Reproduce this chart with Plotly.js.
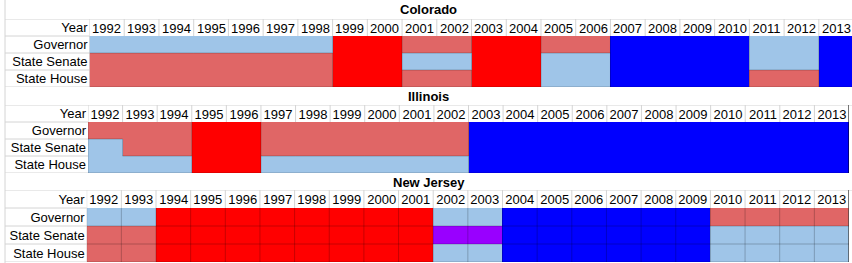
<!DOCTYPE html>
<html><head><meta charset="utf-8">
<script src="https://cdn.plot.ly/plotly-3.0.1.min.js"></script>
<style>html,body{margin:0;padding:0;background:#fff;}#chart{width:852px;height:263px;}</style>
</head><body><div id="chart"></div>
<script>
// ---- data ----
const years = ['1992','1993','1994','1995','1996','1997','1998','1999','2000','2001','2002','2003','2004','2005','2006','2007','2008','2009','2010','2011','2012','2013'];
const rowLabels = ['State House','State Senate','Governor','Year'];
const states = ['Colorado','Illinois','New Jersey'];
// D = Democratic, R = Republican, RT = Republican trifecta, DT = Democratic trifecta, T = tied
const coGov   = ['D','D','D','D','D','D','D','RT','RT','R','R','RT','RT','R','R','DT','DT','DT','DT','D','D','DT'];
const coSen   = ['R','R','R','R','R','R','R','RT','RT','D','D','RT','RT','D','D','DT','DT','DT','DT','D','D','DT'];
const coHouse = ['R','R','R','R','R','R','R','RT','RT','R','R','RT','RT','D','D','DT','DT','DT','DT','R','R','DT'];
const ilGov   = ['R','R','R','RT','RT','R','R','R','R','R','R','DT','DT','DT','DT','DT','DT','DT','DT','DT','DT','DT'];
const ilSen   = ['D','R','R','RT','RT','R','R','R','R','R','R','DT','DT','DT','DT','DT','DT','DT','DT','DT','DT','DT'];
const ilHouse = ['D','D','D','RT','RT','D','D','D','D','D','D','DT','DT','DT','DT','DT','DT','DT','DT','DT','DT','DT'];
const njGov   = ['D','D','RT','RT','RT','RT','RT','RT','RT','RT','D','D','DT','DT','DT','DT','DT','DT','R','R','R','R'];
const njSen   = ['R','R','RT','RT','RT','RT','RT','RT','RT','RT','T','T','DT','DT','DT','DT','DT','DT','D','D','D','D'];
const njHouse = ['R','R','RT','RT','RT','RT','RT','RT','RT','RT','D','D','DT','DT','DT','DT','DT','DT','D','D','D','D'];

// ---- styling ----
const codeIndex = {D:0, R:1, RT:2, DT:3, T:4, H:5};
const colors = ['#9fc5e8','#e06666','#ff0000','#0000ff','#9900ff','#ffffff'];
const colorscale = colors.map((c,i)=>[i/5,c]);
const W = 852, H = 263;
const FONT = 'Liberation Sans, Arial, sans-serif';
const grid = '#d4d4d4';
const border = 'rgba(0,0,0,0.22)';

const panels = [
  {rows:[coHouse,coSen,coGov], top:19, bottom:87, x0:89.5, x1:852, xend:21.455, titleY:10, merged:true, edge:false},
  {rows:[ilHouse,ilSen,ilGov], top:105, bottom:173, x0:88, x1:849, xend:21.5, titleY:97, merged:true, edge:true},
  {rows:[njHouse,njSen,njGov], top:190, bottom:262, x0:86.7, x1:849, xend:21.5, titleY:182, merged:false, edge:true}
];

const traces = [], shapes = [], annotations = [];
const layout = {width:W, height:H, margin:{l:0,r:0,t:0,b:0}, paper_bgcolor:'#fff', plot_bgcolor:'#fff',
  font:{family:FONT, size:13, color:'#000'}, showlegend:false};

panels.forEach((p, k) => {
  const ax = k === 0 ? '' : String(k+1);
  const xa = 'x'+ax, ya = 'y'+ax;
  const z = p.rows.map(r => r.map(v => codeIndex[v]));
  z.push(years.map(()=>codeIndex.H));
  const text = p.rows.map(r => r.map(()=>''));
  text.push(years.slice());
  traces.push({type:'heatmap', x:years.map((_,i)=>i), y:[0,1,2,3], z:z, text:text, texttemplate:'%{text}',
    textfont:{family:FONT, size:13, color:'#000'}, colorscale:colorscale, zmin:0, zmax:5, showscale:false,
    hoverinfo:'skip', xaxis:xa, yaxis:ya});
  layout['xaxis'+ax] = {domain:[p.x0/W, p.x1/W], range:[-0.5, p.xend], showgrid:false, zeroline:false,
    showticklabels:false, ticks:'', anchor:ya, fixedrange:true};
  layout['yaxis'+ax] = {domain:[1-p.bottom/H, 1-p.top/H], range:[-0.5,3.5], showgrid:false, zeroline:false,
    tickvals:[0,1,2,3], ticktext:rowLabels, ticks:'', ticklabelstandoff:1, tickfont:{family:FONT,size:13,color:'#000'},
    anchor:xa, fixedrange:true};
  // title
  annotations.push({text:'<b>'+states[k]+'</b>', xref:'paper', yref:'paper', x:428.5/W, y:1-p.titleY/H,
    xanchor:'center', yanchor:'middle', showarrow:false, font:{family:FONT,size:13,color:'#000'}});
  // header grid
  for (let i=0;i<=years.length;i++) {
    shapes.push({type:'line', xref:xa, yref:ya, x0:i-0.5, x1:i-0.5, y0:2.5, y1:3.5, line:{color:grid,width:1}, layer:'above'});
  }
  shapes.push({type:'line', xref:'paper', yref:ya, x0:5/W, x1:1, y0:3.5, y1:3.5, line:{color:grid,width:1}, layer:'above'});
  shapes.push({type:'line', xref:'paper', yref:ya, x0:5/W, x1:p.x0/W, y0:-0.5, y1:-0.5, line:{color:grid,width:1}, layer:'above'});
  [0.5,1.5,2.5].forEach(yv => shapes.push({type:'line', xref:'paper', yref:ya, x0:5/W, x1:p.x0/W, y0:yv, y1:yv, line:{color:grid,width:1}, layer:'above'}));
  // data cell borders
  for (let r=0;r<3;r++) {
    for (let j=0;j<years.length;j++) {
      if (j < years.length-1 && (!p.merged || p.rows[r][j] !== p.rows[r][j+1]))
        shapes.push({type:'line', xref:xa, yref:ya, x0:j+0.5, x1:j+0.5, y0:r-0.5, y1:r+0.5, line:{color:border,width:1}, layer:'above'});
      if (r < 2 && (!p.merged || p.rows[r][j] !== p.rows[r+1][j]))
        shapes.push({type:'line', xref:xa, yref:ya, x0:j-0.5, x1:j+0.5, y0:r+0.5, y1:r+0.5, line:{color:border,width:1}, layer:'above'});
    }
  }
  shapes.push({type:'line', xref:xa, yref:ya, x0:-0.5, x1:p.xend, y0:-0.5, y1:-0.5, line:{color:border,width:1}, layer:'above'});
  shapes.push({type:'line', xref:xa, yref:ya, x0:-0.5, x1:-0.5, y0:-0.5, y1:2.5, line:{color:border,width:1}, layer:'above'});
  if (p.edge) shapes.push({type:'line', xref:xa, yref:ya, x0:p.xend, x1:p.xend, y0:-0.5, y1:3.5, line:{color:'#000',width:1}, layer:'above'});
});
shapes.push({type:'line', xref:'paper', yref:'paper', x0:5/W, x1:5/W, y0:0, y1:1, line:{color:grid,width:1}, layer:'above'});
layout.shapes = shapes;
layout.annotations = annotations;
Plotly.newPlot('chart', traces, layout, {staticPlot:true, displayModeBar:false});
</script></body></html>
